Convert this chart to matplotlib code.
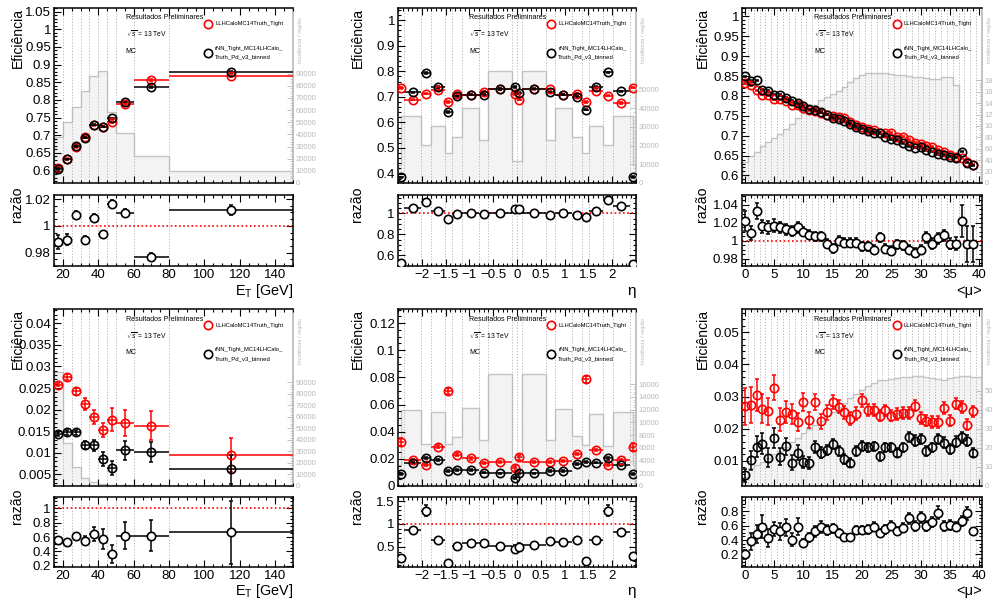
import matplotlib
matplotlib.use("Agg")
import matplotlib.pyplot as plt
import numpy as np
from matplotlib.ticker import FixedLocator, MultipleLocator, FuncFormatter

plt.rcParams['font.family'] = ['Liberation Sans', 'DejaVu Sans']
plt.rcParams['mathtext.fontset'] = 'custom'
plt.rcParams['mathtext.rm'] = 'Liberation Sans'
plt.rcParams['mathtext.it'] = 'Liberation Sans:italic'

# ---------------- data ----------------
et_edges = [15, 20, 25, 30, 35, 40, 45, 50, 60, 80, 150]
eta_edges = [-2.5, -2.37, -2.01, -1.81, -1.52, -1.37, -1.15, -0.8, -0.6, -0.1, 0,
             0.1, 0.6, 0.8, 1.15, 1.37, 1.52, 1.81, 2.01, 2.37, 2.5]
eta_hist_edges = [-2.5, -2.43, -2.01, -1.81, -1.52, -1.37, -1.15, -0.8, -0.6, -0.1,
                  0.1, 0.6, 0.8, 1.15, 1.37, 1.52, 1.81, 2.01, 2.43, 2.5]
mu_points = list(range(40))

# Row 1: signal efficiency
et_eff_llh = [0.6085, 0.634, 0.667, 0.695, 0.728, 0.724, 0.738, 0.789, 0.856, 0.868]
et_eff_rnn = [0.605, 0.632, 0.670, 0.693, 0.730, 0.724, 0.748, 0.795, 0.836, 0.879]
et_eff_err = [0.003, 0.002, 0.002, 0.002, 0.002, 0.002, 0.002, 0.002, 0.002, 0.002]
et_ratio = [0.9878, 0.9896, 1.0081, 0.9896, 1.0061, 0.9942, 1.0165, 1.0099, 0.9765, 1.0119]
et_ratio_err = [0.005, 0.004, 0.0033, 0.0025, 0.0025, 0.002, 0.0025, 0.0025, 0.003, 0.004]
et_hist_sig = [38000, 50000, 62600, 75800, 88200, 92600, 58500, 41200, 22000, 9600]

eta_eff_llh = [0.735, 0.689, 0.713, 0.726, 0.680, 0.712, 0.709, 0.719, 0.731, 0.712,
               0.689, 0.729, 0.729, 0.709, 0.712, 0.680, 0.725, 0.705, 0.676, 0.736]
eta_eff_rnn = [0.385, 0.718, 0.794, 0.739, 0.640, 0.702, 0.709, 0.709, 0.731, 0.738,
               0.715, 0.732, 0.718, 0.709, 0.699, 0.650, 0.739, 0.796, 0.722, 0.387]
eta_ratio = [0.525, 1.048, 1.113, 1.026, 0.945, 0.994, 1.006, 0.994, 1.006, 1.04,
             1.04, 1.006, 0.99, 1.006, 0.99, 0.968, 1.026, 1.13, 1.071, 0.52]
eta_ratio_err = [0.01, 0.01, 0.015, 0.008, 0.008, 0.006, 0.005, 0.006, 0.004, 0.01,
                 0.01, 0.004, 0.006, 0.005, 0.006, 0.008, 0.008, 0.015, 0.01, 0.01]
eta_hist_sig = [9800, 35700, 20200, 30400, 16100, 24600, 40200, 23200, 59800, 11600,
                59800, 23200, 40200, 24600, 16100, 30400, 20200, 35700, 9800]

mu_eff_llh = [0.833, 0.827, 0.814, 0.803, 0.802, 0.791, 0.791, 0.787, 0.778, 0.777,
              0.770, 0.764, 0.762, 0.758, 0.753, 0.749, 0.746, 0.745, 0.735, 0.7275,
              0.7225, 0.718, 0.714, 0.7075, 0.706, 0.706, 0.6975, 0.6975, 0.689, 0.681,
              0.679, 0.675, 0.6725, 0.664, 0.660, 0.652, 0.6475, 0.643, 0.635, 0.627]
mu_eff_rnn = [0.849, 0.837, 0.839, 0.816, 0.8125, 0.803, 0.802, 0.795, 0.787, 0.781,
              0.774, 0.766, 0.764, 0.760, 0.753, 0.745, 0.743, 0.737, 0.729, 0.7225,
              0.718, 0.712, 0.706, 0.706, 0.6975, 0.691, 0.689, 0.681, 0.674, 0.670,
              0.6725, 0.664, 0.660, 0.654, 0.652, 0.6475, 0.645, 0.660, 0.6325, 0.625]
mu_ratio = [1.022, 1.009, 1.033, 1.016, 1.015, 1.017, 1.015, 1.013, 1.011, 1.015,
            1.010, 1.007, 1.005, 1.005, 0.997, 0.992, 1.000, 0.998, 0.998, 0.998,
            0.994, 0.994, 0.990, 1.004, 0.991, 0.989, 0.996, 0.995, 0.990, 0.987,
            0.990, 1.004, 0.997, 1.003, 1.006, 0.997, 0.997, 1.022, 0.996, 0.997]
mu_ratio_err = [0.011, 0.008, 0.009, 0.007, 0.007, 0.007, 0.006, 0.006, 0.006, 0.006,
                0.005, 0.005, 0.005, 0.005, 0.005, 0.005, 0.005, 0.005, 0.005, 0.005,
                0.005, 0.005, 0.005, 0.005, 0.005, 0.005, 0.005, 0.005, 0.005, 0.005,
                0.005, 0.006, 0.006, 0.006, 0.006, 0.006, 0.007, 0.018, 0.02, 0.02]
mu_hist_sig = [3600, 4750, 5500, 6400, 7100, 7800, 8500, 9400, 10400, 11400,
               12200, 13000, 13700, 14500, 15100, 15650, 16200, 16900, 17700, 18400,
               19000, 19250, 19250, 19250, 19200, 19100, 19000, 18900, 18800, 18650,
               18550, 18400, 18300, 18250, 18550, 18650, 17100, 150, 100, 60]

# Row 2: background (fake) efficiency
et_fake_llh = [0.02576, 0.02755, 0.0242, 0.0213, 0.0182, 0.01526, 0.01768, 0.0169, 0.01628, 0.00943]
et_fake_llh_err = [0.0004, 0.0006, 0.0009, 0.0013, 0.0016, 0.0017, 0.0027, 0.0031, 0.0033, 0.0039]
et_fake_rnn = [0.01433, 0.01472, 0.01472, 0.01177, 0.01177, 0.0085, 0.0064, 0.0106, 0.0102, 0.00617]
et_fake_rnn_err = [0.0004, 0.0005, 0.0006, 0.0009, 0.0013, 0.0016, 0.0016, 0.0022, 0.0023, 0.0033]
et_fake_ratio = [0.560, 0.537, 0.616, 0.551, 0.644, 0.569, 0.361, 0.620, 0.620, 0.667]
et_fake_ratio_err = [0.037, 0.028, 0.046, 0.06, 0.10, 0.14, 0.125, 0.185, 0.22, 0.44]
et_hist_bkg = [98800, 37200, 16100, 7300, 3500, 2000, 1200, 600, 600, 300]

eta_fake_llh = [0.0322, 0.019, 0.0156, 0.029, 0.070, 0.023, 0.0203, 0.0168, 0.0178, 0.0129,
                0.021, 0.0178, 0.0178, 0.0183, 0.0235, 0.0787, 0.0265, 0.0153, 0.019, 0.0285]
eta_fake_llh_err = [0.003, 0.0008, 0.0008, 0.001, 0.0025, 0.001, 0.0008, 0.0008, 0.0006, 0.0015,
                    0.0015, 0.0006, 0.0008, 0.0008, 0.001, 0.0025, 0.001, 0.0008, 0.0008, 0.003]
eta_fake_rnn = [0.0087, 0.0168, 0.0205, 0.019, 0.0111, 0.0119, 0.0119, 0.0099, 0.0094, 0.0057,
                0.0099, 0.0094, 0.0111, 0.0111, 0.0161, 0.0178, 0.0173, 0.0203, 0.0156, 0.0087]
eta_fake_rnn_err = [0.0008, 0.0007, 0.0008, 0.0007, 0.0006, 0.0006, 0.0005, 0.0005, 0.0004, 0.0008,
                    0.0008, 0.0004, 0.0005, 0.0005, 0.0007, 0.0008, 0.0007, 0.0008, 0.0007, 0.0008]
eta_fake_ratio = [0.254, 0.87, 1.29, 0.652, 0.145, 0.514, 0.58, 0.58, 0.53, 0.457,
                  0.507, 0.543, 0.623, 0.60, 0.66, 0.203, 0.652, 1.29, 0.82, 0.31]
eta_fake_ratio_err = [0.03, 0.05, 0.12, 0.04, 0.02, 0.04, 0.04, 0.05, 0.03, 0.08,
                      0.08, 0.03, 0.06, 0.04, 0.05, 0.02, 0.04, 0.12, 0.05, 0.03]
eta_hist_bkg = [3260, 11950, 6580, 11580, 6680, 7630, 12200, 7300, 17630, 4580,
                17630, 7300, 12100, 7800, 6400, 11300, 6300, 11600, 3260]

mu_fake_llh = [0.0270, 0.0274, 0.0306, 0.0262, 0.0255, 0.0328, 0.0228, 0.0251, 0.0246, 0.0220,
               0.0283, 0.0227, 0.0283, 0.0223, 0.0251, 0.0283, 0.0269, 0.0251, 0.0231, 0.0246,
               0.0288, 0.0257, 0.0257, 0.0241, 0.0257, 0.0241, 0.0246, 0.0248, 0.0248, 0.0272,
               0.0234, 0.0225, 0.0220, 0.0220, 0.0265, 0.0225, 0.0278, 0.0267, 0.0213, 0.0254]
mu_fake_llh_err = [0.0057, 0.0055, 0.005, 0.0045, 0.0042, 0.004, 0.0036, 0.0034, 0.003, 0.0028,
                   0.0027, 0.0026, 0.0025, 0.0024, 0.0023, 0.0022, 0.0021, 0.002, 0.002, 0.002,
                   0.0019, 0.0019, 0.0019, 0.0018, 0.0018, 0.0018, 0.0018, 0.0018, 0.0018, 0.0018,
                   0.0018, 0.0018, 0.0018, 0.0018, 0.0018, 0.0018, 0.0018, 0.0018, 0.0018, 0.0018]
mu_fake_rnn = [0.0055, 0.0102, 0.0144, 0.0154, 0.0110, 0.0171, 0.0113, 0.0145, 0.0095, 0.0126,
               0.0097, 0.0093, 0.0144, 0.0126, 0.0133, 0.0152, 0.0131, 0.0105, 0.0095, 0.0131,
               0.0147, 0.0142, 0.0145, 0.0114, 0.0142, 0.0142, 0.0126, 0.0142, 0.0175, 0.0163,
               0.0168, 0.0131, 0.0142, 0.0168, 0.0157, 0.0137, 0.0160, 0.0173, 0.0163, 0.0126]
mu_fake_rnn_err = [0.002, 0.003, 0.0033, 0.0033, 0.003, 0.003, 0.0026, 0.0026, 0.0022, 0.0022,
                   0.0018, 0.0018, 0.0018, 0.0017, 0.0016, 0.0016, 0.0016, 0.0015, 0.0014, 0.0015,
                   0.0015, 0.0015, 0.0015, 0.0014, 0.0015, 0.0015, 0.0015, 0.0015, 0.0016, 0.0016,
                   0.0016, 0.0015, 0.0015, 0.0016, 0.0016, 0.0015, 0.0016, 0.0016, 0.0016, 0.0015]
mu_fake_ratio = [0.20, 0.382, 0.482, 0.586, 0.427, 0.55, 0.518, 0.577, 0.405, 0.586,
                 0.359, 0.436, 0.518, 0.577, 0.54, 0.564, 0.495, 0.436, 0.436, 0.54,
                 0.54, 0.55, 0.586, 0.495, 0.55, 0.60, 0.527, 0.573, 0.70, 0.595,
                 0.714, 0.60, 0.655, 0.777, 0.60, 0.61, 0.586, 0.664, 0.768, 0.518]
mu_fake_ratio_err = [0.06, 0.12, 0.13, 0.16, 0.12, 0.10, 0.12, 0.12, 0.09, 0.12,
                     0.06, 0.06, 0.07, 0.08, 0.07, 0.06, 0.06, 0.05, 0.05, 0.06,
                     0.06, 0.06, 0.06, 0.06, 0.06, 0.06, 0.06, 0.06, 0.08, 0.07,
                     0.08, 0.07, 0.07, 0.09, 0.07, 0.07, 0.06, 0.07, 0.09, 0.05]
mu_hist_bkg = [490, 930, 1100, 1280, 1460, 1670, 1860, 2070, 2300, 2510,
               2770, 2980, 3180, 3390, 3650, 3880, 4120, 4350, 4610, 4820,
               5050, 5230, 5400, 5530, 5560, 5630, 5670, 5700, 5700, 5740,
               5740, 5700, 5670, 5630, 5580, 5670, 5700, 5740, 5750, 5720, 5720]

# ---------------- style ----------------
W, H = 992, 602
RED = '#ff0000'
HLINE = '#c4c4c4'
HFILL = '#f3f3f3'
HTEXT = '#b8b8b8'
GRID = '#b0b0b0'
MS = 6.0

fig = plt.figure(figsize=(W / 100, H / 100), dpi=100)
renderer = fig.canvas.get_renderer()


def fit(t, target, dim='w'):
    bb = t.get_window_extent(renderer)
    cur = bb.width if dim == 'w' else bb.height
    if cur > 0:
        t.set_fontsize(t.get_fontsize() * target / cur)
    return t


def rect(x0, x1, yt, yb):
    return [x0 / W, 1 - yb / H, (x1 - x0) / W, (yb - yt) / H]


def fmt(v, pos=None):
    if abs(v) < 1e-12:
        return '0'
    s = f"{v:.4f}".rstrip('0').rstrip('.')
    return s.replace('-', '\u2212')


COLS = [(54, 293), (398, 636), (742, 982)]
ROWS = [((8, 183), (195, 266)), ((309, 486), (497, 567))]
YLAB_X = [-0.151, -0.168, -0.1625]


def centers_from_edges(edges):
    e = np.asarray(edges, float)
    return (e[:-1] + e[1:]) / 2, (e[1:] - e[:-1]) / 2


def style_x(ax, kind):
    if kind == 'et':
        ax.set_xlim(15, 150)
        ax.xaxis.set_major_locator(MultipleLocator(20))
        ax.xaxis.set_minor_locator(MultipleLocator(5))
    elif kind == 'eta':
        ax.set_xlim(-2.5, 2.5)
        ax.xaxis.set_major_locator(FixedLocator(np.arange(-2, 2.01, 0.5)))
        ax.xaxis.set_minor_locator(MultipleLocator(0.1))
    else:
        ax.set_xlim(-0.5, 40.5)
        ax.xaxis.set_major_locator(MultipleLocator(5))
        ax.xaxis.set_minor_locator(MultipleLocator(1))
    ax.xaxis.set_major_formatter(FuncFormatter(fmt))


def grid_lines(ax, kind):
    if kind == 'et':
        lines = et_edges[1:-1]
    elif kind == 'eta':
        lines = eta_edges[1:-1]
    else:
        lines = [k + 0.5 for k in range(40)]
    for xv in lines:
        ax.axvline(xv, color=GRID, lw=0.6, ls=(0, (1.5, 2.0)), zorder=0.5)


def draw_series(ax, x, xe, y, ye, color, filled):
    ax.errorbar(x, y, xerr=xe, fmt='none', ecolor=color, elinewidth=1.1, capsize=0, zorder=3)
    ax.errorbar(x, y, yerr=ye, fmt='none', ecolor=color, elinewidth=1.1, capsize=1.6,
                capthick=1.1, zorder=3)
    ax.plot(x, y, 'o', ls='none', mfc='white' if filled else 'none', mec=color, ms=MS,
            mew=1.2, zorder=4)


panels = [
    dict(row=0, col=0, kind='et', llh=et_eff_llh, llh_err=et_eff_err, rnn=et_eff_rnn,
         rnn_err=et_eff_err, ratio=et_ratio, ratio_err=et_ratio_err, hist=et_hist_sig,
         hedges=et_edges, hmax=144050, hticks=np.arange(0, 90001, 10000),
         ylim=(0.565, 1.06), ymaj=0.05, ymin=0.01, rylim=(0.970, 1.023),
         rticks=[0.98, 1, 1.02], rmin=0.005),
    dict(row=0, col=1, kind='eta', llh=eta_eff_llh, llh_err=[0.003] * 20, rnn=eta_eff_rnn,
         rnn_err=[0.003] * 20, ratio=eta_ratio, ratio_err=eta_ratio_err, hist=eta_hist_sig,
         hedges=eta_hist_edges, hmax=93750, hticks=np.arange(0, 50001, 10000),
         ylim=(0.363, 1.048), ymaj=0.1, ymin=0.02, rylim=(0.497, 1.177),
         rticks=[0.6, 0.8, 1.0], rmin=0.05),
    dict(row=0, col=2, kind='mu', llh=mu_eff_llh, llh_err=[0.002] * 40, rnn=mu_eff_rnn,
         rnn_err=[0.002] * 40, ratio=mu_ratio, ratio_err=mu_ratio_err, hist=mu_hist_sig,
         hedges=np.arange(-0.5, 40.0, 1.0), hmax=30660, hticks=np.arange(0, 18001, 2000),
         ylim=(0.581, 1.021), ymaj=0.05, ymin=0.01, rylim=(0.972, 1.051),
         rticks=[0.98, 1.0, 1.02, 1.04], rmin=0.005),
    dict(row=1, col=0, kind='et', llh=et_fake_llh, llh_err=et_fake_llh_err, rnn=et_fake_rnn,
         rnn_err=et_fake_rnn_err, ratio=et_fake_ratio, ratio_err=et_fake_ratio_err,
         hist=et_hist_bkg, hedges=et_edges, hmax=153600, hticks=np.arange(0, 90001, 10000),
         ylim=(0.0023, 0.0433), ymaj=0.005, ymin=0.001, rylim=(0.18, 1.16),
         rticks=[0.2, 0.4, 0.6, 0.8, 1.0], rmin=0.05),
    dict(row=1, col=1, kind='eta', llh=eta_fake_llh, llh_err=eta_fake_llh_err, rnn=eta_fake_rnn,
         rnn_err=eta_fake_rnn_err, ratio=eta_fake_ratio, ratio_err=eta_fake_ratio_err,
         hist=eta_hist_bkg, hedges=eta_hist_edges, hmax=27840,
         hticks=np.arange(0, 16001, 2000), ylim=(0.0, 0.1304), ymaj=0.02, ymin=0.005,
         rylim=(0.065, 1.587), rticks=[0.5, 1.0, 1.5], rmin=0.1),
    dict(row=1, col=2, kind='mu', llh=mu_fake_llh, llh_err=mu_fake_llh_err, rnn=mu_fake_rnn,
         rnn_err=mu_fake_rnn_err, ratio=mu_fake_ratio, ratio_err=mu_fake_ratio_err,
         hist=mu_hist_bkg, hedges=np.arange(-0.5, 41.0, 1.0), hmax=9276,
         hticks=np.arange(0, 5001, 1000), ylim=(0.0022, 0.0572), ymaj=0.01, ymin=0.002,
         rylim=(0.027, 0.995), rticks=[0.2, 0.4, 0.6, 0.8], rmin=0.05),
]

for p in panels:
    (x0, x1) = COLS[p['col']]
    (mt, mb), (rt, rb) = ROWS[p['row']]
    kind = p['kind']
    if kind == 'et':
        xc, xe = centers_from_edges(et_edges)
    elif kind == 'eta':
        xc, xe = centers_from_edges(eta_edges)
    else:
        xc, xe = np.asarray(mu_points, float), np.zeros(40)

    # ---------- main panel ----------
    ax = fig.add_axes(rect(x0, x1, mt, mb))
    axh = ax.twinx()
    ax.set_zorder(axh.get_zorder() + 1)
    ax.patch.set_visible(False)
    axh.stairs(p['hist'], p['hedges'], fill=True, color=HFILL, zorder=1)
    axh.stairs(p['hist'], p['hedges'], color=HLINE, lw=1.0, zorder=2)
    axh.set_ylim(0, p['hmax'])
    axh.yaxis.set_major_locator(FixedLocator(p['hticks']))
    step = p['hticks'][1] - p['hticks'][0]
    axh.yaxis.set_minor_locator(FixedLocator(np.arange(0, p['hticks'][-1] + 1, step / 5)))
    axh.yaxis.set_major_formatter(FuncFormatter(lambda v, pos: f"{int(round(v))}"))
    axh.tick_params(axis='y', which='major', direction='in', length=4, width=0.6,
                    color=HTEXT, labelcolor=HTEXT, labelsize=5.5, pad=2)
    axh.tick_params(axis='y', which='minor', direction='in', length=2, width=0.5, color=HTEXT)
    for s in ['left', 'top', 'bottom']:
        axh.spines[s].set_visible(False)
    axh.spines['right'].set_color(HTEXT)
    axh.spines['right'].set_linewidth(1.2)
    ax.spines['right'].set_visible(False)
    t = ax.text(1.032, 0.95, 'Incidência / região', transform=ax.transAxes, rotation=90,
                ha='center', va='top', fontsize=5.5, color=HTEXT)
    fit(t, 46, 'h')

    grid_lines(ax, kind)
    style_x(ax, kind)
    ax.set_ylim(*p['ylim'])
    ax.yaxis.set_major_locator(MultipleLocator(p['ymaj']))
    ax.yaxis.set_minor_locator(MultipleLocator(p['ymin']))
    ax.yaxis.set_major_formatter(FuncFormatter(fmt))
    ax.tick_params(which='both', direction='in', top=True, right=False, labelbottom=False,
                   labelsize=9.5, width=0.8, pad=2)
    ax.tick_params(which='major', length=5)
    ax.tick_params(which='minor', length=2.5)
    for s in ['left', 'top', 'bottom']:
        ax.spines[s].set_linewidth(1.1)

    draw_series(ax, xc, xe, p['llh'], p['llh_err'], RED, False)
    draw_series(ax, xc, xe, p['rnn'], p['rnn_err'], 'black', False)

    ty = ax.text(YLAB_X[p['col']], 1.0, 'Eficiência', transform=ax.transAxes, rotation=90,
                 ha='center', va='top', fontsize=12)
    fit(ty, 60, 'h')
    ylab_size = ty.get_fontsize()

    # annotations / legend
    fit(ax.text(0.30, 0.943, 'Resultados Preliminares', transform=ax.transAxes, fontsize=6,
                ha='left', va='center'), 78)
    fit(ax.text(0.30, 0.851, r'$\sqrt{s}$ = 13 TeV', transform=ax.transAxes, fontsize=6,
                ha='left', va='center'), 40)
    fit(ax.text(0.30, 0.754, 'MC', transform=ax.transAxes, fontsize=6, ha='left',
                va='center'), 11)
    ax.plot([0.644], [0.909], 'o', transform=ax.transAxes, mfc='none', mec=RED, ms=MS,
            mew=1.2, clip_on=False)
    fit(ax.text(0.674, 0.909, 'LLHCaloMC14Truth_Tight', transform=ax.transAxes, fontsize=5,
                ha='left', va='center'), 70)
    ax.plot([0.644], [0.743], 'o', transform=ax.transAxes, mfc='none', mec='black', ms=MS,
            mew=1.2, clip_on=False)
    fit(ax.text(0.674, 0.771, 'rNN_Tight_MC14LHCalo_', transform=ax.transAxes, fontsize=5,
                ha='left', va='center'), 69)
    fit(ax.text(0.674, 0.72, 'Truth_Pd_v3_binned', transform=ax.transAxes, fontsize=5,
                ha='left', va='center'), 57)

    # ---------- ratio panel ----------
    axr = fig.add_axes(rect(x0, x1, rt, rb))
    grid_lines(axr, kind)
    style_x(axr, kind)
    axr.set_ylim(*p['rylim'])
    axr.yaxis.set_major_locator(FixedLocator(p['rticks']))
    axr.yaxis.set_minor_locator(MultipleLocator(p['rmin']))
    axr.yaxis.set_major_formatter(FuncFormatter(fmt))
    axr.tick_params(which='both', direction='in', top=True, right=True, labelsize=9.5,
                    width=0.8, pad=2.5)
    axr.tick_params(which='major', length=5)
    axr.tick_params(which='minor', length=2.5)
    for s in axr.spines.values():
        s.set_linewidth(1.1)
    axr.axhline(1.0, color=RED, ls=(0, (1, 1.5)), lw=1.2, zorder=2)
    draw_series(axr, xc, xe, p['ratio'], p['ratio_err'], 'black', True)
    axr.text(YLAB_X[p['col']] - 0.005, 1.12, 'razão', transform=axr.transAxes, rotation=90,
             ha='center', va='top', fontsize=ylab_size)
    yoff = -0.35 if p['row'] == 0 else -0.34
    if kind == 'et':
        fit(axr.text(1.0, yoff, 'E$_{\\mathrm{T}}$ [GeV]', transform=axr.transAxes,
                     ha='right', va='center', fontsize=10), 58)
    elif kind == 'eta':
        axr.text(1.0, yoff, '\u03b7', transform=axr.transAxes, ha='right', va='center',
                 fontsize=11)
    else:
        axr.text(1.0, yoff, '<\u03bc>', transform=axr.transAxes, ha='right', va='center',
                 fontsize=10.5)

fig.savefig('out.png', dpi=100)
